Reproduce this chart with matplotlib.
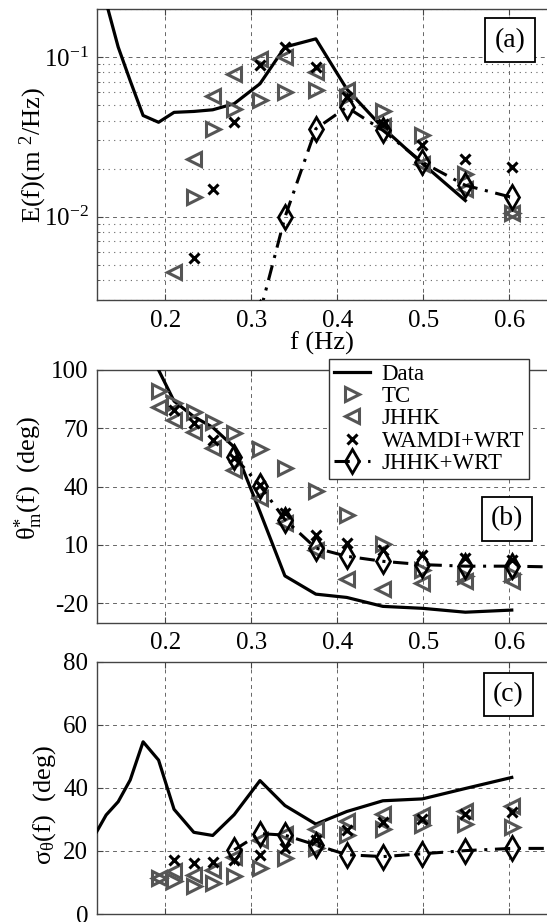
import numpy as np
import matplotlib
matplotlib.use('Agg')
import matplotlib.pyplot as plt
from matplotlib.ticker import LogLocator, FixedLocator, NullFormatter, LogFormatterMathtext

plt.rcParams['font.family'] = ['Liberation Serif', 'DejaVu Serif']
plt.rcParams['mathtext.fontset'] = 'custom'
plt.rcParams['mathtext.rm'] = 'Liberation Serif'
plt.rcParams['mathtext.it'] = 'Liberation Serif:italic'
plt.rcParams['mathtext.bf'] = 'Liberation Serif:bold'
plt.rcParams['axes.unicode_minus'] = False

nan = np.nan

# ---------------- data ----------------
f_data = [0.120, 0.131, 0.145, 0.159, 0.174, 0.192, 0.210, 0.233, 0.255, 0.280,
          0.310, 0.339, 0.375, 0.411, 0.453, 0.499, 0.549, 0.603]
f_model = [0.192, 0.210, 0.233, 0.255, 0.280, 0.310, 0.339, 0.375, 0.411, 0.453,
           0.499, 0.549, 0.603]
f_wrt = [0.280, 0.310, 0.339, 0.375, 0.411, 0.453, 0.499, 0.549, 0.603, 0.663]

# (a) energy spectrum E(f)
E_data = [0.35, 0.22, 0.1155, 0.071, 0.043, 0.039, 0.045, 0.0456, 0.0467, 0.051,
          0.068, 0.1155, 0.130, 0.063, 0.0360, 0.0215, 0.0126, nan]
E_tc = [nan, nan, 0.0132, 0.0355, 0.0474, 0.054, 0.0603, 0.0618, 0.056, 0.0462,
        0.0324, 0.0185, 0.0106]
E_jhhk = [nan, 0.0045, 0.023, 0.0567, 0.0786, 0.0977, 0.100, 0.0805, 0.0618, 0.0372,
          0.0214, 0.0149, 0.0106]
E_wamdi = [nan, nan, 0.0055, 0.0149, 0.039, 0.0887, 0.1155, 0.0865, 0.056, 0.0381,
           0.0279, 0.023, 0.0204]
E_wrt = [nan, 0.0025, 0.0099, 0.0355, 0.0485, 0.0347, 0.0219, 0.0157, 0.0132, nan]

# (b) mean direction theta*_m(f)
th_data = [nan, nan, nan, nan, nan, 100, 84, 76, 70.5, 60.3,
           27, -6, -15.4, -17.1, -21.7, -22.7, -24.7, -23.6]
th_tc = [89, 82.9, 78.6, 73.4, 67.4, 59.4, 49.4, 37.8, 25.5, 10.5, -3, -6, -5]
th_jhhk = [81.1, 74.3, 68.3, 59.7, 48.6, 34, 21.1, 7.5, -7.8, -12.9, -9.5, -8.6, -8.6]
th_wamdi = [nan, 79.4, 72.6, 64, 54.6, 40.9, 26.3, 15.1, 10.8, 7.5, 4.9, 3.2, 2.4]
th_wrt = [55.4, 40.5, 23, 8.3, 4.1, 1.5, -0.2, -1.0, -1.0, -1.5]

# (c) directional spread sigma_theta(f)
sg_data = [26.1, 31.4, 35.6, 42.5, 54.6, 48.8, 33.2, 25.9, 24.9, 31.5,
           42.3, 34.4, 28.5, 32.5, 35.9, 36.5, 39.8, 43.3]
sg_tc = [11.5, 10.5, 8.9, 9.9, 12.0, 14.6, 17.7, 21.0, 25.0, 27.0, 28.1, 28.6, 27.6]
sg_jhhk = [11.5, 13.6, 12.5, 14.1, 18.2, 23.5, 25.5, 27.0, 29.6, 31.7, 31.5, 32.7, 34.3]
sg_wamdi = [nan, 17.2, 16.2, 16.4, 17.2, 18.8, 20.8, 23.4, 26.5, 29.1, 30.2, 31.7, 32.2]
sg_wrt = [20.3, 25.5, 25.0, 21.9, 18.8, 18.2, 19.1, 20.1, 20.8, 20.8]

x_ticks = [0.2, 0.3, 0.4, 0.5, 0.6]
x_ticklabels = ['0.2', '0.3', '0.4', '0.5', '0.6']
th_ticks = [-20, 10, 40, 70, 100]
sg_ticks = [0, 20, 40, 60, 80]
labels = ['Data', 'TC', 'JHHK', 'WAMDI+WRT', 'JHHK+WRT']

# ---------------- styling ----------------
GRAY = '#555555'
W, H = 547, 922
fig = plt.figure(figsize=(W / 100, H / 100), dpi=100)

def px_axes(left, top, bottom, right=W):
    return fig.add_axes([left / W, 1 - bottom / H, (right - left) / W, (bottom - top) / H])

ax_a = px_axes(96.7, 9, 300)
ax_b = px_axes(96.7, 370, 622.5)
ax_c = px_axes(96.7, 661.7, 914)

TICKFS = 18
dash_grid = dict(color='#666666', linestyle=(0, (4, 4)), linewidth=0.7)
dashdot = (0, (5, 2.5, 1, 2.5))

def style(ax):
    ax.set_xlim(0.12, 0.644)
    ax.xaxis.set_major_locator(FixedLocator(x_ticks))
    ax.set_xticklabels(x_ticklabels)
    for s in ['left', 'bottom', 'top']:
        ax.spines[s].set_color('#444444')
        ax.spines[s].set_linewidth(1.0)
    ax.spines['right'].set_visible(False)
    ax.tick_params(axis='both', which='major', direction='in', length=4, width=0.8,
                   labelsize=TICKFS, color='#444444', top=True, pad=6)
    ax.tick_params(axis='x', pad=7)
    ax.grid(True, which='major', **dash_grid)
    ax.set_axisbelow(True)

def plot_models(ax, fd, d, tc, jh, wa, wr):
    ax.plot(f_data, d, color='black', lw=2.3, label=labels[0], zorder=3)
    ax.plot(f_model, tc, linestyle='none', marker='>', ms=10.5, mew=2.2,
            mec=GRAY, mfc='none', label=labels[1], zorder=4)
    ax.plot(f_model, jh, linestyle='none', marker='<', ms=10.5, mew=2.2,
            mec=GRAY, mfc='none', label=labels[2], zorder=4)
    ax.plot(f_model, wa, linestyle='none', marker='x', ms=6.5, mew=2.2,
            mec='black', label=labels[3], zorder=5)
    ax.plot(f_wrt, wr, color='black', lw=2.2, linestyle=dashdot, marker='d',
            ms=12, mew=2.0, mec='black', mfc='none', label=labels[4], zorder=6)

def panel_label(ax, txt, x, y):
    ax.text(x, y, txt, transform=ax.transAxes, fontsize=20, ha='center', va='center',
            bbox=dict(boxstyle='square,pad=0.33', fc='white', ec='black', lw=1.3), zorder=10)

# (a)
plot_models(ax_a, f_data, E_data, E_tc, E_jhhk, E_wamdi, E_wrt)
ax_a.set_yscale('log')
ax_a.set_ylim(0.003, 0.2)
style(ax_a)
ax_a.yaxis.set_major_locator(LogLocator(base=10, numticks=10))
ax_a.yaxis.set_major_formatter(LogFormatterMathtext())
ax_a.yaxis.set_minor_locator(LogLocator(base=10, subs=np.arange(2, 10), numticks=20))
ax_a.yaxis.set_minor_formatter(NullFormatter())
ax_a.tick_params(axis='y', which='minor', direction='in', length=2.5, width=0.6, color='#444444')
ax_a.grid(True, which='minor', axis='y', color='#666666', linestyle=(0, (1, 4)), linewidth=0.8)
ax_a.set_ylabel('E(f)(m $^{2}$/Hz)', fontsize=19)
ax_a.yaxis.set_label_coords(-0.105, 0.5)
ax_a.set_xlabel('f (Hz)', fontsize=19, labelpad=0)
panel_label(ax_a, '(a)', 0.918, 0.893)

# (b)
plot_models(ax_b, f_data, th_data, th_tc, th_jhhk, th_wamdi, th_wrt)
ax_b.set_ylim(-30, 100)
style(ax_b)
ax_b.yaxis.set_major_locator(FixedLocator(th_ticks))
ax_b.set_ylabel(r'θ$^{*}_{\mathrm{m}}$(f)  (deg)', fontsize=19)
ax_b.yaxis.set_label_coords(-0.115, 0.57)
panel_label(ax_b, '(b)', 0.911, 0.41)
leg = ax_b.legend(loc='upper left', bbox_to_anchor=(329 / W, 1 - 359 / H),
                  bbox_transform=fig.transFigure, fontsize=16.5, frameon=True,
                  fancybox=False, framealpha=1, edgecolor='#333333',
                  handlelength=1.6, handletextpad=0.5, labelspacing=0.06,
                  borderpad=0.2, borderaxespad=0)
leg.get_frame().set_linewidth(1.0)
leg.set_zorder(20)

# (c)
plot_models(ax_c, f_data, sg_data, sg_tc, sg_jhhk, sg_wamdi, sg_wrt)
ax_c.set_ylim(0, 80)
style(ax_c)
ax_c.yaxis.set_major_locator(FixedLocator(sg_ticks))
ax_c.set_ylabel(r'σ$_{\mathrm{θ}}$(f)  (deg)', fontsize=19)
ax_c.yaxis.set_label_coords(-0.085, 0.43)
ax_c.tick_params(axis='x', labelbottom=False)
panel_label(ax_c, '(c)', 0.9145, 0.869)

fig.savefig('out.png', dpi=100)
